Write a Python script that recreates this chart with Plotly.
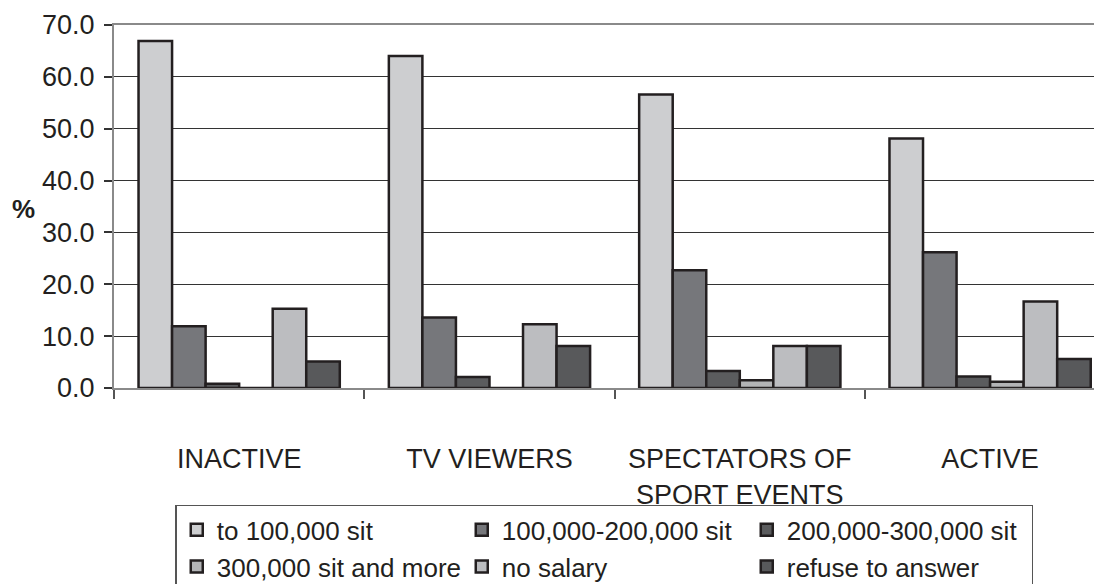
import plotly.graph_objects as go

categories = ["INACTIVE", "TV VIEWERS", "SPECTATORS OF<br>SPORT EVENTS", "ACTIVE"]
series_names = ["to 100,000 sit", "100,000-200,000 sit", "200,000-300,000 sit",
                "300,000 sit and more", "no salary", "refuse to answer"]
to_100k = [66.9, 64.0, 56.6, 48.1]
s100_200k = [11.9, 13.6, 22.7, 26.2]
s200_300k = [0.8, 2.1, 3.3, 2.2]
s300k_more = [0.0, 0.0, 1.5, 1.2]
no_salary = [15.3, 12.3, 8.1, 16.7]
refuse = [5.1, 8.1, 8.1, 5.6]
series_values = [to_100k, s100_200k, s200_300k, s300k_more, no_salary, refuse]
colors = ["#cdced0", "#76777b", "#5b5c5e", "#b3b4b6", "#bcbdc0", "#58595b"]
y_ticks = [0, 10, 20, 30, 40, 50, 60, 70]

FONT = "Liberation Sans, Arial, sans-serif"

fig = go.Figure()
for name, vals, col in zip(series_names, series_values, colors):
    fig.add_trace(go.Bar(
        x=categories, y=vals, name=name,
        marker=dict(color=col, line=dict(color="#231f20", width=2.5)),
    ))

fig.update_layout(
    width=1094, height=576,
    margin=dict(l=106, r=0, t=17, b=196, autoexpand=False),
    paper_bgcolor="white", plot_bgcolor="white",
    barmode="group", bargap=0.196, bargroupgap=0,
    font=dict(family=FONT, size=26, color="#231f20"),
    showlegend=True,
    legend=dict(
        orientation="h", x=0.062, xanchor="left", y=-0.322, yanchor="top",
        entrywidth=240, entrywidthmode="pixels", itemwidth=30,
        bordercolor="#555555", borderwidth=1.5,
        font=dict(family=FONT, size=26, color="#231f20"),
        traceorder="normal", tracegroupgap=0,
    ),
    annotations=[dict(
        text="<b>%</b>", xref="paper", yref="y", x=-0.092, y=34.6,
        xanchor="center", yanchor="middle", showarrow=False,
        font=dict(family=FONT, size=26, color="#231f20"),
    )],
)

fig.update_xaxes(
    type="category", range=[-0.5, 3.447],
    showline=True, linecolor="#8a8a8a", linewidth=2, mirror=True,
    ticks="outside", tickson="boundaries", ticklen=9, tickcolor="#555555", tickwidth=1.5,
    ticklabelstandoff=46,
    tickfont=dict(family=FONT, size=27, color="#231f20"),
    showgrid=False, zeroline=False,
)
fig.update_yaxes(
    range=[0, 70], tickvals=y_ticks, tickformat=".1f",
    showline=True, linecolor="#8a8a8a", linewidth=2,
    ticks="outside", ticklen=8, tickcolor="#333333", tickwidth=1.5,
    ticklabelstandoff=4,
    tickfont=dict(family=FONT, size=27, color="#231f20"),
    showgrid=True, gridcolor="#333333", gridwidth=1.2,
    zeroline=False,
)

fig.write_html("out.html")
